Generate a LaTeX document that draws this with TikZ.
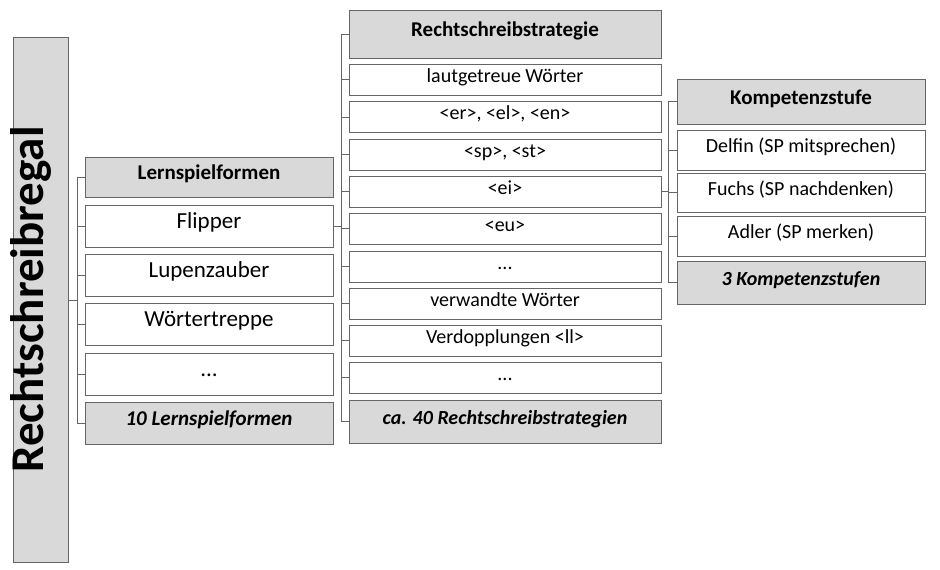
\documentclass[tikz,border=0pt]{standalone}
\usepackage{fontspec}
\setmainfont{Carlito}
\begin{document}
\begin{tikzpicture}[x=1pt,y=-1pt,
 bx/.style={draw=black!60,line width=1pt,fill=white,inner sep=0pt,text height=0.72em,text depth=0.22em},
 hd/.style={bx,fill=black!15,font=\bfseries},
 ln/.style={draw=black!60,line width=0.8pt}]
\useasboundingbox (0,0) rectangle (940,570);
% main
\node[hd,minimum width=525,minimum height=55,rotate=90,font=\bfseries\fontsize{47}{50}\selectfont] (main) at (40.5,299.5) {Rechtschreibregal};
% Lernspielformen
\begin{scope}[every node/.append style={minimum width=248,minimum height=42}]
\node[hd,minimum height=40,font=\bfseries\fontsize{21}{24}\selectfont] (l0) at (209,177) {Lernspielformen};
\node[bx,font=\fontsize{23}{26}\selectfont] (l1) at (209,226) {Flipper};
\node[bx,font=\fontsize{23}{26}\selectfont] (l2) at (209,275) {Lupenzauber};
\node[bx,font=\fontsize{23}{26}\selectfont] (l3) at (209,324) {Wörtertreppe};
\node[bx,font=\fontsize{23}{26}\selectfont] (l4) at (209,374) {...};
\node[hd,font=\bfseries\itshape\fontsize{21}{24}\selectfont] (l5) at (209,423) {10 Lernspielformen};
\end{scope}
% Rechtschreibstrategie
\begin{scope}[every node/.append style={minimum width=312,minimum height=31,font=\fontsize{20}{23}\selectfont}]
\node[hd,minimum height=48,font=\bfseries\fontsize{21}{24}\selectfont] (r0) at (505,34) {Rechtschreibstrategie};
\node[bx] (r1) at (505,79.5) {lautgetreue Wörter};
\node[bx] (r2) at (505,117) {<er>, <el>, <en>};
\node[bx] (r3) at (505,154.5) {<sp>, <st>};
\node[bx] (r4) at (505,191.5) {<ei>};
\node[bx] (r5) at (505,228.5) {<eu>};
\node[bx] (r6) at (505,266.5) {...};
\node[bx] (r7) at (505,303.5) {verwandte Wörter};
\node[bx] (r8) at (505,340.5) {Verdopplungen <ll>};
\node[bx] (r9) at (505,377.5) {...};
\node[hd,minimum height=43,font=\bfseries\itshape\fontsize{20}{23}\selectfont] (r10) at (505,421.5) {ca. 40 Rechtschreibstrategien};
\end{scope}
% Kompetenzstufe
\begin{scope}[every node/.append style={minimum width=248,minimum height=40,font=\fontsize{20}{23}\selectfont}]
\node[hd,minimum height=45,font=\bfseries\fontsize{21}{24}\selectfont] (k0) at (801,101.5) {Kompetenzstufe};
\node[bx] (k1) at (801,150) {Delfin (SP mitsprechen)};
\node[bx,minimum height=39] (k2) at (801,192.5) {Fuchs (SP nachdenken)};
\node[bx] (k3) at (801,236) {Adler (SP merken)};
\node[hd,minimum height=43,font=\bfseries\itshape\fontsize{20}{23}\selectfont] (k4) at (801,282.5) {3 Kompetenzstufen};
\end{scope}
% connectors
\coordinate (ma) at (77,300);
\draw[ln] (main.south |- ma) -- (ma);
\draw[ln] (77,0|-l0.west) -- (77,0|-l5.west);
\foreach \i in {0,...,5} \draw[ln] (77,0|-l\i.west) -- (l\i.west);
\coordinate (fa) at (341,226);
\draw[ln] (l1.east) -- (fa);
\draw[ln] (341,0|-r0.west) -- (341,0|-r10.west);
\foreach \i in {0,...,10} \draw[ln] (341,0|-r\i.west) -- (r\i.west);
\coordinate (ea) at (668,191.5);
\draw[ln] (r4.east) -- (ea);
\draw[ln] (668,0|-k0.west) -- (668,0|-k4.west);
\foreach \i in {0,...,4} \draw[ln] (668,0|-k\i.west) -- (k\i.west);
\end{tikzpicture}
\end{document}
